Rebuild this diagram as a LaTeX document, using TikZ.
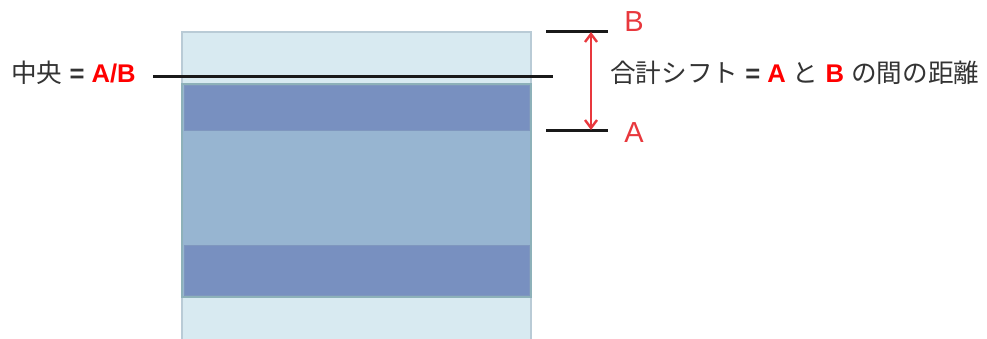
\documentclass[tikz,border=0pt]{standalone}
\usepackage{fontspec}
\setmainfont{Liberation Sans}
\newfontfamily\cjk{Noto Sans CJK JP}
\usepackage{xcolor}
\usetikzlibrary{arrows.meta, positioning}

\definecolor{paleblue}{HTML}{D8EAF1}
\definecolor{paleedge}{HTML}{B9CBD6}
\definecolor{midblue}{HTML}{97B5D1}
\definecolor{midedge}{HTML}{8DB1B9}
\definecolor{bandblue}{HTML}{7890C0}
\definecolor{bandedge}{HTML}{7F97BE}
\definecolor{txtgray}{HTML}{333333}
\definecolor{hired}{HTML}{FF0000}
\definecolor{lblred}{HTML}{E8383D}

\begin{document}
\begin{tikzpicture}[x=1pt, y=1pt,
  every node/.style={inner sep=0pt, text=txtgray},
  bigtext/.style={font=\fontsize{25.6}{30}\selectfont},
  marker/.style={line width=3pt, black!90},
  shiftarrow/.style={line width=2.4pt, lblred, {Straight Barb[length=8pt,width=12pt]}-{Straight Barb[length=8pt,width=12pt]}}]
\useasboundingbox (0,0) rectangle (987,338);
% Stack of layers
\draw[fill=paleblue, draw=paleedge, line width=2.5pt] (182,-2) rectangle (531,306);
\draw[fill=midblue, draw=midedge, line width=2.5pt] (182,41) rectangle (531,254);
\draw[fill=bandblue, draw=bandedge, line width=1pt] (184,208) rectangle (529,252);
\draw[fill=bandblue, draw=bandedge, line width=1pt] (184,43) rectangle (529,93);

% Center line
\node[bigtext, anchor=west] (center) at (11,265)
  {{\cjk 中央} \textbf{=} \textcolor{hired}{\textbf{A/B}}};
\coordinate (cl) at (153,261);
\coordinate (cr) at (553,261);
\draw[marker] (cl) -- (cr);

% Positions A and B
\coordinate (bl) at (546,306);
\coordinate (br) at (608,306);
\coordinate (al) at (546,208);
\coordinate (ar) at (608,208);
\draw[marker] (bl) -- (br);
\draw[marker] (al) -- (ar);
\node[font=\fontsize{29}{32}\selectfont, text=lblred] (labB) at (634,316) {B};
\node[font=\fontsize{29}{32}\selectfont, text=lblred] (labA) at (634,205) {A};

% Total shift
\coordinate (top) at (591,306);
\coordinate (bot) at (591,208);
\draw[shiftarrow] (bot) -- (top);
\node[bigtext, anchor=west] (shift) at (610,265)
  {{\cjk 合計シフト} \textbf{=} \textcolor{hired}{\textbf{A}} {\cjk と} \textcolor{hired}{\textbf{B}} {\cjk の間の距離}};
\end{tikzpicture}
\end{document}
